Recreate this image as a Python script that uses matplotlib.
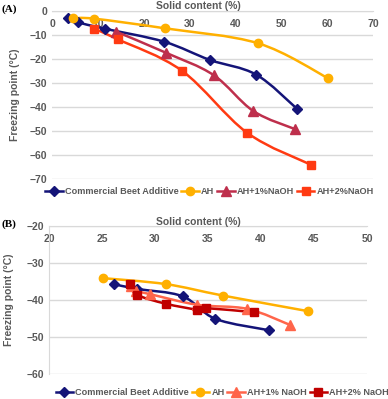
import matplotlib.pyplot as plt
import numpy as np
from matplotlib.path import Path
from matplotlib.patches import PathPatch
from matplotlib.lines import Line2D

plt.rcParams['font.family'] = ['Liberation Sans', 'DejaVu Sans']

# Panel A data
a_beet_x = [3.5, 5.5, 11.5, 24.4, 34.4, 44.5, 53.4]
a_beet_y = [-3.1, -4.7, -7.4, -12.8, -20.4, -26.5, -40.7]
a_ah_x = [4.4, 9.1, 24.5, 45.0, 60.3]
a_ah_y = [-3.1, -3.2, -7.2, -13.5, -28.1]
a_ah1_x = [13.9, 24.8, 35.2, 43.9, 53.1]
a_ah1_y = [-8.6, -17.4, -26.7, -41.7, -49.3]
a_ah2_x = [9.1, 14.3, 28.3, 42.5, 56.4]
a_ah2_y = [-7.4, -11.8, -24.9, -50.7, -64.0]
a_labels = ['Commercial Beet Additive', 'AH', 'AH+1%NaOH', 'AH+2%NaOH']

# Panel B data
b_beet_x = [26.1, 28.3, 32.6, 35.7, 40.8]
b_beet_y = [-35.7, -37.0, -39.0, -45.1, -48.2]
b_ah_x = [25.1, 31.0, 36.4, 44.4]
b_ah_y = [-34.1, -35.7, -38.8, -43.0]
b_ah1_x = [27.7, 28.2, 29.5, 34.0, 38.7, 42.7]
b_ah1_y = [-36.2, -37.5, -38.4, -41.3, -42.4, -46.7]
b_ah2_x = [27.6, 28.3, 31.0, 34.0, 34.8, 39.3]
b_ah2_y = [-35.8, -38.6, -41.0, -42.6, -42.2, -43.3]
b_labels = ['Commercial Beet Additive', 'AH', 'AH+1% NaOH', 'AH+2% NaOH']

gray = '#595959'
grid = '#D9D9D9'


def smooth_line(ax, x, y, color):
    # excel-like smoothed line (catmull-rom as bezier segments)
    p = np.column_stack([x, y])
    verts = [p[0]]
    codes = [Path.MOVETO]
    n = len(p)
    for i in range(n - 1):
        p0 = p[i - 1] if i > 0 else p[i]
        p3 = p[i + 2] if i + 2 < n else p[i + 1]
        c1 = p[i] + (p[i + 1] - p0) / 6
        c2 = p[i + 1] - (p3 - p[i]) / 6
        verts += [c1, c2, p[i + 1]]
        codes += [Path.CURVE4] * 3
    patch = PathPatch(Path(verts, codes), facecolor='none', edgecolor=color,
                      lw=1.8, zorder=3, capstyle='round', joinstyle='round')
    ax.add_patch(patch)


def draw_series(ax, x, y, color, marker, ms):
    smooth_line(ax, x, y, color)
    ax.plot(x, y, ls='none', marker=marker, ms=ms, color=color, zorder=4)
    return Line2D([], [], color=color, lw=1.8, marker=marker, ms=ms)


def style_axes(ax, xlim, ylim, step_x, step_y, left_line):
    ax.set_xlim(*xlim)
    ax.set_ylim(*ylim)
    ax.set_xticks(np.arange(xlim[0], xlim[1] + 1, step_x))
    ax.set_yticks(np.arange(ylim[0], ylim[1] + 1, step_y))
    ax.xaxis.tick_top()
    ax.tick_params(length=0, colors=gray, labelsize=7.5)
    ax.tick_params(axis='x', pad=-13)
    for lab in ax.get_xticklabels() + ax.get_yticklabels():
        lab.set_fontweight('bold')
    ax.grid(axis='y', color=grid, lw=1)
    for s in ['right', 'bottom']:
        ax.spines[s].set_visible(False)
    ax.spines['top'].set_color(grid)
    ax.spines['left'].set_color(grid)
    ax.spines['left'].set_visible(left_line)
    ax.set_axisbelow(True)


fig = plt.figure(figsize=(3.88, 3.99), dpi=100)

# ---- (A)
ax1 = fig.add_axes([0.135, 0.5514, 0.826, 0.4211])
style_axes(ax1, (0, 70), (-70, 0), 10, 10, False)
h = []
h.append(draw_series(ax1, a_beet_x, a_beet_y, '#141478', 'D', 5))
h.append(draw_series(ax1, a_ah_x, a_ah_y, '#FFB000', 'o', 6))
h.append(draw_series(ax1, a_ah1_x, a_ah1_y, '#BE2F4C', '^', 7))
h.append(draw_series(ax1, a_ah2_x, a_ah2_y, '#FF3A12', 's', 6))
ax1.set_ylabel('Freezing point (°C)', color=gray, fontsize=7.5, fontweight='bold', labelpad=7)
fig.text(0.51, 0.986, 'Solid content (%)', ha='center', va='center', color=gray,
         fontsize=7.5, fontweight='bold')
fig.text(0.005, 0.978, '(A)', ha='left', va='center', family='Liberation Serif',
         fontsize=8, fontweight='bold')
fig.legend(h, a_labels, loc='center', bbox_to_anchor=(0.54, 0.519), ncol=4, frameon=False,
           handlelength=1.9, handletextpad=0.25, columnspacing=0.3,
           prop={'size': 6.6, 'weight': 'bold'}, labelcolor=gray)

# ---- (B)
ax2 = fig.add_axes([0.1263, 0.0627, 0.8196, 0.3709])
style_axes(ax2, (20, 50), (-60, -20), 5, 10, True)
h = []
h.append(draw_series(ax2, b_beet_x, b_beet_y, '#141478', 'D', 5))
h.append(draw_series(ax2, b_ah_x, b_ah_y, '#FFB000', 'o', 6))
h.append(draw_series(ax2, b_ah1_x, b_ah1_y, '#FF654A', '^', 7))
h.append(draw_series(ax2, b_ah2_x, b_ah2_y, '#C00000', 's', 6))
ax2.set_ylabel('Freezing point (°C)', color=gray, fontsize=7.5, fontweight='bold', labelpad=9)
fig.text(0.51, 0.444, 'Solid content (%)', ha='center', va='center', color=gray,
         fontsize=7.5, fontweight='bold')
fig.text(0.005, 0.437, '(B)', ha='left', va='center', family='Liberation Serif',
         fontsize=8, fontweight='bold')
fig.legend(h, b_labels, loc='center', bbox_to_anchor=(0.573, 0.016), ncol=4, frameon=False,
           handlelength=1.9, handletextpad=0.25, columnspacing=0.3,
           prop={'size': 6.6, 'weight': 'bold'}, labelcolor=gray)

fig.savefig('out.png', dpi=100)
